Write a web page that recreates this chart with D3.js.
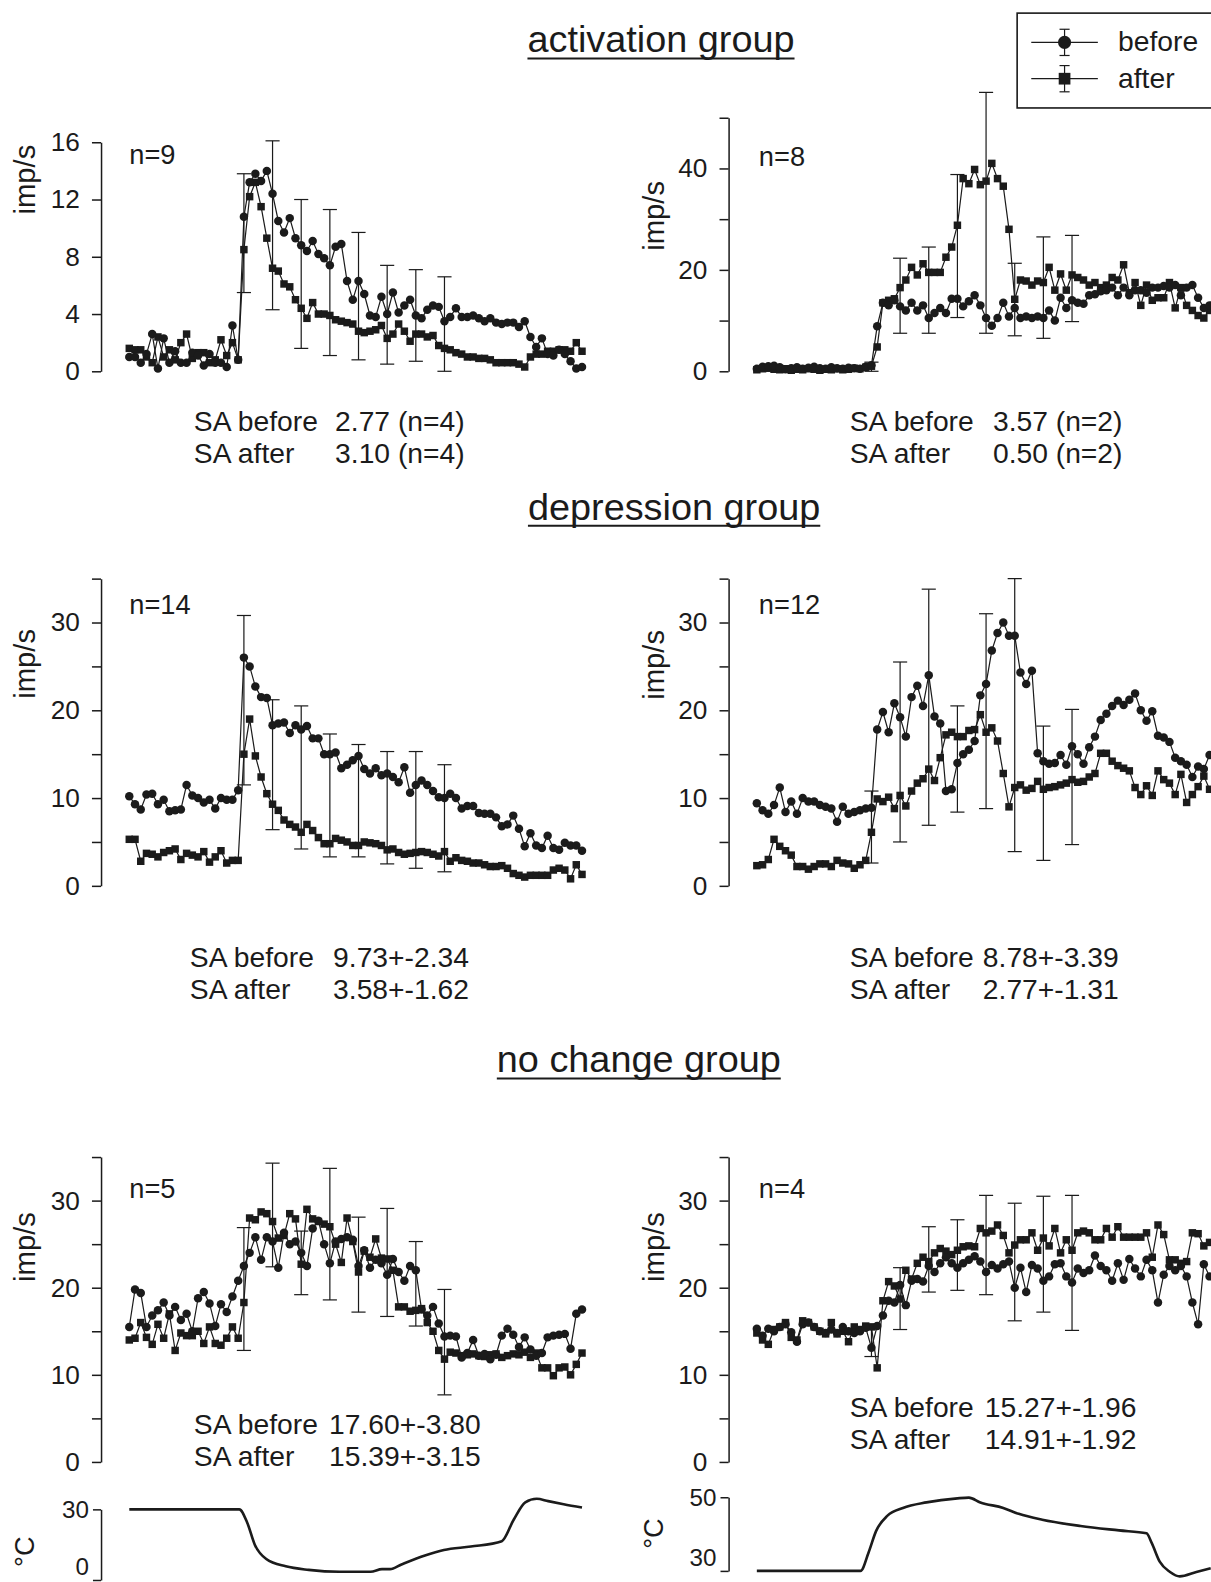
<!DOCTYPE html>
<html><head><meta charset="utf-8">
<script src="https://cdn.jsdelivr.net/npm/d3@7"></script>
<style>
body{margin:0;background:#fff;}
svg{display:block;font-family:"Liberation Sans",Arial,Helvetica,sans-serif;}
</style></head><body>
<svg id="chart" width="1211" height="1582" viewBox="0 0 1200 1568"></svg>
<script>
// ---------------- DATA ----------------
const seriesNames = ["before", "after"];
const groupTitles = ["activation group", "depression group", "no change group"];
const nLabels = ["n=9", "n=8", "n=14", "n=12", "n=5", "n=4"];
const saLabels = ["SA before", "SA after"];
const saActL = ["2.77 (n=4)", "3.10 (n=4)"];
const saActR = ["3.57 (n=2)", "0.50 (n=2)"];
const saDepL = ["9.73+-2.34", "3.58+-1.62"];
const saDepR = ["8.78+-3.39", "2.77+-1.31"];
const saNoL  = ["17.60+-3.80", "15.39+-3.15"];
const saNoR  = ["15.27+-1.96", "14.91+-1.92"];

// y-axis ticks and labels
const ticksActL = [0, 4, 8, 12, 16];       const labelsActL = [0, 4, 8, 12, 16];
const ticksActR = [0, 10, 20, 30, 40, 50]; const labelsActR = [0, 20, 40];
const ticks35 = [0, 5, 10, 15, 20, 25, 30, 35]; const labels35 = [0, 10, 20, 30];
const ticksTempL = [0, 30];  const ticksTempR = [30, 50];

// error bars drawn every 5th sample
const errIdx = [20, 25, 30, 35, 40, 45, 50, 55];

// activation group, left (n=9)
const actLBefore = [1.0,1.0,0.6,1.2,2.6,0.2,2.3,0.6,1.4,0.6,0.6,1.3,1.1,0.4,1.2,0.6,0.6,0.3,3.2,0.8,
  10.8,13.2,13.8,13.3,14.0,12.4,10.5,9.7,10.7,9.3, 8.8,8.4,9.1,8.2,7.9,7.4,8.7,8.9,6.3,5.0,
  6.3,5.4,3.9,3.8,5.2,4.0,5.5,4.1,4.6,5.0, 3.9,3.7,4.3,4.6,4.5,3.5,3.8,4.4,3.8,3.8,
  3.9,3.7,3.5,3.7,3.4,3.3,3.4,3.4,3.1,3.5, 2.4,1.7,2.3,1.2,1.1,1.5,1.2,0.7,0.2,0.3];
const actLAfter = [1.6,1.5,1.5,1.0,0.6,2.4,1.0,1.5,0.8,2.0,2.6,0.9,1.3,1.3,0.6,0.8,2.2,1.1,2.0,0.8,
  8.5,12.2,13.2,11.5,9.3,7.2,7.0,6.1,5.9,5.0, 4.4,3.7,4.8,4.0,4.0,3.9,3.6,3.5,3.4,3.3,
  2.8,2.7,2.8,2.9,3.2,2.3,2.6,3.3,2.8,2.1, 2.6,2.6,2.4,2.5,1.8,1.6,1.5,1.3,1.2,1.0,
  1.0,0.9,0.9,0.8,0.6,0.6,0.6,0.6,0.5,0.3, 1.0,1.2,1.2,1.4,1.4,1.5,1.5,1.4,2.0,1.4];
const actLErrLo = [5.5,4.3,1.6,1.1,0.8,0.5,0.7,0.0];
const actLErrHi = [13.8,16.1,12.0,11.3,9.7,7.4,7.1,6.6];

// activation group, right (n=8)
const actRBefore = [0.5,0.9,1.0,1.1,0.8,0.4,0.6,0.8,0.5,0.7,0.9,0.6,0.5,0.8,0.6,0.5,0.7,0.6,0.5,0.9,1.2,
  8.9,13.5,13.0,14.0,12.8,12.0,13.5,12.0,13.0,10.5, 11.5,12.5,11.5,14.3,14.3,12.8,13.8,15.0,13.0,10.5,
  9.0,10.5,13.5,10.8,12.5,10.5,10.8,10.5,10.8,10.5, 12.0,10.0,14.5,12.5,14.0,13.5,13.3,15.0,15.2,15.8,
  16.0,16.5,15.0,16.5,15.0,16.0,16.0,15.5,16.5,16.5, 16.8,16.5,17.0,15.0,16.5,17.0,14.5,12.5,13.0];
const actRAfter = [0.3,0.5,0.6,0.4,0.3,0.5,0.2,0.4,0.3,0.5,0.4,0.2,0.4,0.3,0.5,0.3,0.4,0.6,0.5,0.8,1.0,
  4.8,13.5,14.0,14.3,16.5,18.0,20.5,19.0,21.2,19.5, 19.5,19.5,22.5,24.5,28.8,38.0,37.0,39.8,36.8,37.5,
  41.0,38.0,36.5,28.0,14.2,18.0,17.8,17.0,17.8,17.5, 20.5,16.0,19.2,16.0,19.0,18.5,18.0,17.0,17.5,16.5,
  17.0,18.5,18.0,21.0,15.5,17.5,13.0,17.0,14.0,14.5, 14.5,17.5,12.5,16.5,13.0,12.0,11.0,10.5,12.0];
const actRErrLo = [0.0,7.5,7.5,10.6,7.5,7.0,6.5,9.8];
const actRErrHi = [1.8,22.3,24.5,38.8,55.0,21.3,26.5,26.8];

// depression group, left (n=14)
const depLBefore = [10.2,9.3,8.7,10.4,10.5,9.3,9.8,8.5,8.6,8.7,11.5,10.3,10.0,9.5,9.8,8.8,10.0,9.8,9.8,10.9,
  26.0,25.0,22.7,21.5,21.4,18.3,18.5,18.6,17.4,18.3, 17.8,18.2,16.8,16.8,15.0,15.0,15.2,13.4,13.8,14.3,
  14.8,13.3,12.8,13.4,12.6,12.8,12.4,11.8,13.5,10.6, 11.5,12.0,11.5,10.8,10.1,10.0,10.5,10.0,8.8,9.1,
  9.1,8.3,8.2,8.2,7.8,6.8,7.0,8.0,6.5,4.5, 6.0,4.6,4.3,5.7,4.3,4.1,4.9,4.6,4.6,4.0];
const depLAfter = [5.3,5.3,2.8,3.7,3.6,3.3,3.8,4.0,4.2,3.0,3.7,3.5,3.3,3.9,2.7,3.3,4.0,2.6,2.9,2.9,
  15.0,19.0,14.8,12.4,10.5,9.3,8.6,7.5,7.0,6.7, 6.1,7.0,6.3,5.5,4.8,4.8,5.4,5.2,5.0,4.6,
  4.6,5.0,4.9,4.8,4.6,4.1,4.2,3.8,3.6,3.7, 3.8,3.9,3.8,3.6,3.4,3.9,2.8,3.2,2.9,2.8,
  2.6,2.6,2.4,2.2,2.2,2.3,2.0,1.4,1.2,1.0, 1.2,1.2,1.2,1.2,1.8,2.0,1.8,0.8,2.4,1.3];
const depLErrLo = [11.5,6.4,4.2,3.3,3.3,2.5,2.0,1.6];
const depLErrHi = [30.8,21.2,20.5,17.3,16.1,15.3,15.3,13.8];

// depression group, right (n=12)
const depRBefore = [9.4,8.6,8.2,9.2,11.2,8.4,9.6,8.2,10.0,9.6,9.6,9.2,9.0,8.8,7.3,9.0,8.2,8.4,8.6,8.8,8.9,
  17.8,19.8,17.5,20.8,19.2,17.0,21.5,22.8,20.5,24.0, 19.3,18.5,10.8,11.0,14.0,15.0,15.5,16.5,21.7,23.0,
  26.8,28.8,30.0,28.5,28.5,24.3,23.0,24.5,
  15.1,14.2,13.9,14.0,14.9,13.8,15.9,15.0,13.9,15.8,17.0,18.9,19.6,20.5,21.1,20.6,21.2,21.9,20.0,18.8,
  19.9,17.1,16.9,16.4,14.6,14.2,13.8,12.4,13.6,13.3,14.9];
const depRAfter = [2.3,2.4,3.0,5.3,4.5,4.0,3.5,2.2,2.2,1.9,2.2,2.5,2.5,2.2,2.9,2.6,2.5,2.0,2.4,2.9,6.1,
  9.9,9.6,10.1,8.8,10.3,9.1,10.8,11.7,12.2,13.3, 12.0,14.6,17.2,17.5,17.0,17.0,17.7,17.8,19.5,17.5,
  18.0,16.5,12.8,9.0,11.2,11.5,10.9,11.1,11.9,11.0, 11.2,11.3,11.5,11.7,
  12.1,11.8,11.9,12.4,12.8,15.1,15.1,14.2,13.7,13.4,13.1,11.2,10.4,11.4,10.3,13.1,12.1,11.7,10.4,12.7,
  9.5,10.4,11.3,12.5,11.0];
const depRErrLo = [2.6,5.0,6.9,8.4,8.8,3.9,2.9,4.7];
const depRErrHi = [10.8,25.5,33.8,20.5,31.0,35.0,18.2,20.1];

// no change group, left (n=5)
const noLBefore = [15.5,19.8,19.4,15.5,16.8,17.4,18.3,16.8,17.8,16.3,17.0,15.0,18.8,19.5,18.2,15.6,18.1,17.2,19.0,20.8,22.5,
  24.0,25.8,23.2,25.8,25.3,22.3,26.3,25.0,25.3,24.0, 22.5,26.8,27.7,25.0,22.8,25.3,25.6,25.8,25.5,22.5,
  24.3,22.3,23.2,22.8,21.5,23.3,21.8,20.8,22.5,22.0, 17.5,16.8,17.8,15.9,14.4,14.5,14.4,12.0,12.5,14.0,
  12.2,12.4,11.8,12.3,14.5,15.3,14.6,13.2,14.3,12.9, 12.2,12.5,14.3,14.5,14.6,14.7,13.0,17.0,17.5];
const noLAfter = [14.0,14.2,16.0,14.3,13.5,15.8,14.2,17.0,12.8,14.8,14.5,14.5,15.0,13.6,15.5,13.6,13.4,14.2,15.5,14.2,18.3,
  28.0,27.8,28.7,28.5,27.6,25.7,26.0,28.5,27.9,22.7, 29.0,27.9,27.6,27.3,27.0,25.0,22.9,28.0,25.3,21.8,
  24.2,23.5,25.6,23.4,23.3,22.0,17.8,17.8,17.3,17.4, 17.6,16.0,15.0,12.8,11.8,12.6,12.5,12.2,12.3,12.4,
  12.2,12.1,12.3,12.4,12.0,12.2,12.4,12.3,12.6,12.0, 12.5,10.8,10.8,9.9,10.8,10.9,10.0,11.2,12.5];
const noLErrLo = [12.8,22.4,19.2,18.6,17.2,16.7,15.6,7.7];
const noLErrHi = [26.9,34.3,26.5,33.7,28.1,29.1,25.3,19.8];

// no change group, right (n=4)
const noRBefore = [15.3,14.5,15.3,15.0,15.5,15.8,14.9,13.8,15.8,16.0,15.5,15.0,14.8,15.2,14.8,15.5,15.0,14.8,15.0,15.4,13.1,
  15.6,16.8,18.5,18.3,20.3,18.0,20.8,21.0,20.7,22.5, 21.8,22.8,23.5,22.8,22.3,22.8,23.2,23.6,23.0,21.8,
  22.6,22.2,22.7,23.0,20.0,22.3,19.5,22.6,22.2,20.8, 21.3,22.7,22.8,21.3,20.6,22.2,21.7,22.0,23.7,22.5,
  22.0,20.8,22.8,20.9,23.3,22.2,21.3,23.2,22.0,18.3, 21.5,22.5,22.0,22.5,21.3,18.3,15.8,22.7,21.3];
const noRAfter = [14.8,14.0,13.5,15.2,15.5,16.0,14.3,14.0,16.2,16.0,15.5,15.0,14.7,16.0,14.7,15.0,13.8,15.5,15.2,15.6,15.5,
  10.8,18.5,20.7,20.2,18.7,22.0,21.0,22.8,23.5,23.0, 24.0,24.5,24.2,23.8,24.3,24.7,24.8,24.7,26.8,26.3,
  26.5,27.2,26.0,24.0,24.9,25.5,25.5,26.3,24.3,25.7, 24.8,26.8,24.0,25.5,24.3,26.3,26.5,26.3,25.5,25.5,
  26.8,25.8,27.0,25.8,25.8,25.8,25.8,26.3,23.5,27.2, 26.1,23.2,23.2,22.8,23.0,26.3,26.2,24.8,25.2];
const noRErrLo = [12.1,15.2,19.5,19.7,19.2,16.2,17.2,15.1];
const noRErrHi = [15.8,22.3,27.0,27.8,30.6,29.7,30.5,30.6];

// stimulus temperature traces (time in sample units, degrees C)
const tempLTime = [0,19.2,20.6,21.9,23.9,27.3,31.3,36.7,42.1,44.1,45.5,47.5,51.6,54.9,59.6,65.0,67.1,69.1,71.1,73.1,75.8,79];
const tempLDeg  = [30,30,24.2,15.0,8.9,5.8,4.3,3.5,3.5,4.6,4.6,6.6,10.4,12.7,14.2,16.5,25.7,33.0,34.5,33.5,32.2,30.8];
const tempRTime = [0,18.1,19.5,20.8,22.8,25.5,29.6,35.0,37.0,39.0,43.0,45.7,49.8,56.5,63.2,68.0,68.9,70.3,72.1,73.8,76.7,79.2];
const tempRDeg  = [30,30,35.0,40.8,45.0,47.1,48.6,49.7,49.9,48.6,47.1,45.5,43.9,42.2,41.0,40.2,37.6,32.5,29.7,28.5,29.7,30.7];

// ---------------- DRAWING ----------------
const INK = "#1b1b1b";
const svg = d3.select("#chart");
const NPTS = 80, STEP = 5.68;
const TXT = 28;

const leftCol = {axisX: 100, xStart: 128, ylabX: 25, nX: 128};
const rightCol = {axisX: 722, xStart: 750, ylabX: 648, nX: 752};

const panels = [
  {col: leftCol,  before: actLBefore, after: actLAfter, lo: actLErrLo, hi: actLErrHi, top: 16, ticks: ticksActL, labels: labelsActL, yBot: 368, yTop: 141, n: nLabels[0], nY: 154, ylabY: 178, sa: saActL, saX: 192, saVX: 332, saY: 417},
  {col: rightCol, before: actRBefore, after: actRAfter, lo: actRErrLo, hi: actRErrHi, top: 50, ticks: ticksActR, labels: labelsActR, yBot: 368, yTop: 116.7, n: nLabels[1], nY: 156, ylabY: 214, sa: saActR, saX: 842, saVX: 984, saY: 417},
  {col: leftCol,  before: depLBefore, after: depLAfter, lo: depLErrLo, hi: depLErrHi, top: 35, ticks: ticks35, labels: labels35, yBot: 878, yTop: 573.5, n: nLabels[2], nY: 600, ylabY: 658, sa: saDepL, saX: 188, saVX: 330, saY: 948},
  {col: rightCol, before: depRBefore, after: depRAfter, lo: depRErrLo, hi: depRErrHi, top: 35, ticks: ticks35, labels: labels35, yBot: 878, yTop: 573.5, n: nLabels[3], nY: 600, ylabY: 659, sa: saDepR, saX: 842, saVX: 974, saY: 948},
  {col: leftCol,  before: noLBefore, after: noLAfter, lo: noLErrLo, hi: noLErrHi, top: 35, ticks: ticks35, labels: labels35, yBot: 1449, yTop: 1146.8, n: nLabels[4], nY: 1178, ylabY: 1236, sa: saNoL, saX: 192, saVX: 326, saY: 1411},
  {col: rightCol, before: noRBefore, after: noRAfter, lo: noRErrLo, hi: noRErrHi, top: 35, ticks: ticks35, labels: labels35, yBot: 1449, yTop: 1146.8, n: nLabels[5], nY: 1178, ylabY: 1236, sa: saNoR, saX: 842, saVX: 976, saY: 1394}
];

function styleAxis(g, fs) {
  g.select(".domain").attr("stroke", INK).attr("stroke-width", 1.5);
  g.selectAll(".tick line").attr("stroke", INK).attr("stroke-width", 1.5);
  g.selectAll(".tick text").attr("fill", INK).style("font-size", fs + "px")
    .style("font-family", "'Liberation Sans', Arial, sans-serif");
}

function marker(g, shape, cx, cy, size) {
  if (shape === "circle") {
    g.append("circle").attr("cx", cx).attr("cy", cy).attr("r", size).attr("fill", INK);
  } else {
    g.append("rect").attr("x", cx - size).attr("y", cy - size)
      .attr("width", 2 * size).attr("height", 2 * size).attr("fill", INK);
  }
}

panels.forEach(p => {
  const g = svg.append("g");
  const x = d3.scaleLinear().domain([0, NPTS - 1]).range([p.col.xStart, p.col.xStart + (NPTS - 1) * STEP]);
  const y = d3.scaleLinear().domain([0, p.top]).range([p.yBot, p.yTop]);

  const ax = g.append("g").attr("transform", `translate(${p.col.axisX},0)`)
    .call(d3.axisLeft(y).tickValues(p.ticks)
      .tickFormat(d => p.labels.includes(d) ? d : "")
      .tickSize(9).tickSizeOuter(0).tickPadding(12));
  styleAxis(ax, 26);

  // y label
  g.append("text").attr("transform", `translate(${p.col.ylabX},${p.ylabY}) rotate(-90)`)
    .attr("text-anchor", "middle").attr("dominant-baseline", "central")
    .attr("fill", INK).style("font-size", "29px").text("imp/s");

  // n label
  g.append("text").attr("x", p.col.nX).attr("y", p.nY + 9).attr("fill", INK)
    .style("font-size", "27px").text(p.n);

  // error bars
  const eb = g.append("g").attr("stroke", INK).attr("stroke-width", 1.2);
  errIdx.forEach((idx, k) => {
    const cx = x(idx);
    eb.append("line").attr("x1", cx).attr("x2", cx).attr("y1", y(p.lo[k])).attr("y2", y(p.hi[k]));
    eb.append("line").attr("x1", cx - 7).attr("x2", cx + 7).attr("y1", y(p.lo[k])).attr("y2", y(p.lo[k]));
    eb.append("line").attr("x1", cx - 7).attr("x2", cx + 7).attr("y1", y(p.hi[k])).attr("y2", y(p.hi[k]));
  });

  const line = d3.line().x((d, i) => x(i)).y(d => y(d));
  [["after", p.after, "rect"], ["before", p.before, "circle"]].forEach(([name, data, shape]) => {
    g.append("path").datum(data).attr("d", line).attr("fill", "none")
      .attr("stroke", INK).attr("stroke-width", 1.2);
    const mg = g.append("g").attr("class", "markers-" + name);
    if (shape === "circle") {
      mg.selectAll("circle").data(data).join("circle")
        .attr("cx", (d, i) => x(i)).attr("cy", d => y(d)).attr("r", 4.2).attr("fill", INK);
    } else {
      mg.selectAll("rect").data(data).join("rect")
        .attr("x", (d, i) => x(i) - 3.7).attr("y", d => y(d) - 3.7)
        .attr("width", 7.4).attr("height", 7.4).attr("fill", INK);
    }
  });

  // spontaneous activity text
  saLabels.forEach((lab, k) => {
    const yy = p.saY + k * 32 + 10;
    g.append("text").attr("x", p.saX).attr("y", yy).attr("fill", INK).style("font-size", TXT + "px").text(lab);
    g.append("text").attr("x", p.saVX).attr("y", yy).attr("fill", INK).style("font-size", TXT + "px").text(p.sa[k]);
  });
});

// temperature traces
const temps = [
  {col: leftCol, t: tempLTime, c: tempLDeg, dom: [0, 30], rng: [1566, 1496], ticks: ticksTempL, labX: 24, labY: 1538},
  {col: rightCol, t: tempRTime, c: tempRDeg, dom: [30, 50], rng: [1557, 1484], ticks: ticksTempR, labX: 648, labY: 1520}
];
temps.forEach(tp => {
  const g = svg.append("g");
  const x = d3.scaleLinear().domain([0, NPTS - 1]).range([tp.col.xStart, tp.col.xStart + (NPTS - 1) * STEP]);
  const y = d3.scaleLinear().domain(tp.dom).range(tp.rng);
  const ax = g.append("g").attr("transform", `translate(${tp.col.axisX},0)`)
    .call(d3.axisLeft(y).tickValues(tp.ticks).tickSize(8).tickSizeOuter(0).tickPadding(4));
  styleAxis(ax, 24);
  // keep the bottom labels inside the picture
  ax.selectAll(".tick text").filter(d => d === tp.dom[0]).attr("dy", "-0.22em");
  g.append("text").attr("transform", `translate(${tp.labX},${tp.labY}) rotate(-90)`)
    .attr("text-anchor", "middle").attr("dominant-baseline", "central")
    .attr("fill", INK).style("font-size", "27px").text("°C");
  const line = d3.line().x((d, i) => x(tp.t[i])).y(d => y(d)).curve(d3.curveMonotoneX);
  g.append("path").datum(tp.c).attr("d", line).attr("fill", "none")
    .attr("stroke", INK).attr("stroke-width", 2.6).attr("stroke-linejoin", "round");
});

// group titles (underlined)
const titlePos = [[655, 52], [668, 515], [633, 1063]];
groupTitles.forEach((t, k) => {
  const txt = svg.append("text").attr("x", titlePos[k][0]).attr("y", titlePos[k][1])
    .attr("text-anchor", "middle").attr("fill", INK).style("font-size", "37.5px").text(t);
  const w = txt.node().getComputedTextLength();
  svg.append("line").attr("x1", titlePos[k][0] - w / 2).attr("x2", titlePos[k][0] + w / 2)
    .attr("y1", titlePos[k][1] + 6).attr("y2", titlePos[k][1] + 6)
    .attr("stroke", INK).attr("stroke-width", 2);
});

// legend
const lg = svg.append("g");
lg.append("rect").attr("x", 1008).attr("y", 13).attr("width", 260).attr("height", 94)
  .attr("fill", "#fff").attr("stroke", INK).attr("stroke-width", 1.6);
seriesNames.forEach((name, k) => {
  const cy = 42 + k * 36;
  lg.append("line").attr("x1", 1022).attr("x2", 1088).attr("y1", cy).attr("y2", cy).attr("stroke", INK).attr("stroke-width", 1.2);
  lg.append("line").attr("x1", 1055).attr("x2", 1055).attr("y1", cy - 13).attr("y2", cy + 13).attr("stroke", INK).attr("stroke-width", 1.2);
  lg.append("line").attr("x1", 1050).attr("x2", 1060).attr("y1", cy - 13).attr("y2", cy - 13).attr("stroke", INK).attr("stroke-width", 1.2);
  lg.append("line").attr("x1", 1050).attr("x2", 1060).attr("y1", cy + 13).attr("y2", cy + 13).attr("stroke", INK).attr("stroke-width", 1.2);
  marker(lg, k === 0 ? "circle" : "rect", 1055, cy, k === 0 ? 6.5 : 5.8);
  lg.append("text").attr("x", 1108).attr("y", cy + 9).attr("fill", INK).style("font-size", TXT + "px").text(name);
});
</script>
</body></html>
